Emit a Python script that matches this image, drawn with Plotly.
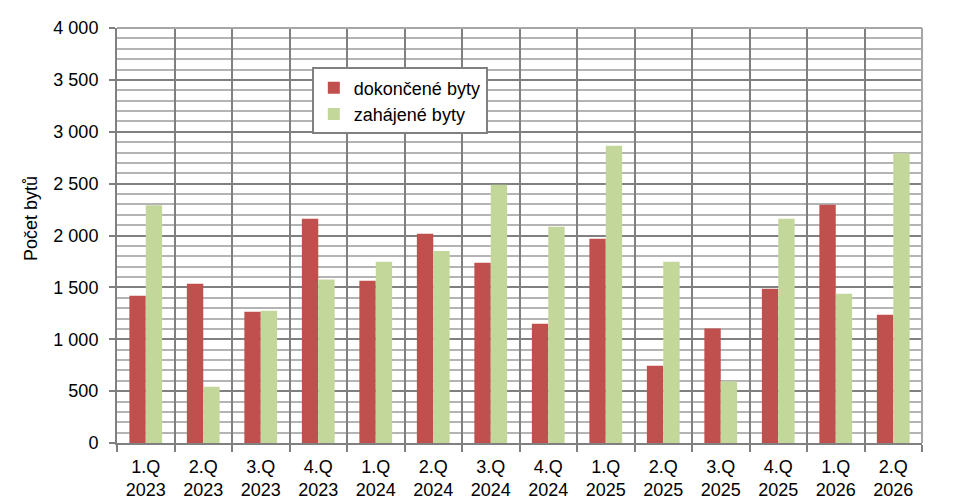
import plotly.graph_objects as go

# quarters on the x axis (two-line labels)
quarters = ["1.Q<br>2023", "2.Q<br>2023", "3.Q<br>2023", "4.Q<br>2023",
            "1.Q<br>2024", "2.Q<br>2024", "3.Q<br>2024", "4.Q<br>2024",
            "1.Q<br>2025", "2.Q<br>2025", "3.Q<br>2025", "4.Q<br>2025",
            "1.Q<br>2026", "2.Q<br>2026"]

dokoncene = [1420, 1535, 1265, 2162, 1563, 2018, 1738, 1150,
             1969, 745, 1103, 1487, 2297, 1237]
zahajene = [2292, 543, 1275, 1575, 1747, 1851, 2490, 2085,
            2866, 1747, 594, 2162, 1439, 2792]

y_tick_vals = [0, 500, 1000, 1500, 2000, 2500, 3000, 3500, 4000]
y_tick_text = ["0", "500", "1 000", "1 500", "2 000", "2 500", "3 000", "3 500", "4 000"]

RED = "#C0504D"
GREEN = "#C4D79B"
MAJOR = "#808080"
MINOR = "#B4B4B4"
FONT = "Liberation Sans, Arial, sans-serif"
FS = 18

fig = go.Figure()
fig.add_trace(go.Bar(x=quarters, y=dokoncene, name="dokončené byty",
                     marker=dict(color=RED, line=dict(width=0)), legendgroup="a"))
fig.add_trace(go.Bar(x=quarters, y=zahajene, name="zahájené byty",
                     marker=dict(color=GREEN, line=dict(width=0)), legendgroup="b"))

# page body has an 8px margin, so the figure is a bit smaller than the window
fig.update_layout(
    width=953, height=494,
    margin=dict(l=109, r=39, t=20, b=59),
    paper_bgcolor="white", plot_bgcolor="white",
    font=dict(family=FONT, size=FS, color="black"),
    barmode="group", bargap=0.43, bargroupgap=0,
    showlegend=True,
    legend=dict(x=0.242, y=0.905, xanchor="left", yanchor="top",
                bgcolor="white", bordercolor=MAJOR, borderwidth=2,
                font=dict(family=FONT, size=FS, color="black"),
                tracegroupgap=6, traceorder="normal"),
)

fig.update_xaxes(
    type="category", tickson="boundaries", automargin=False,
    showgrid=True, gridcolor=MAJOR, gridwidth=2,
    showline=True, linecolor=MAJOR, linewidth=2,
    ticks="outside", ticklen=7, tickcolor=MAJOR, tickwidth=2,
    ticklabelstandoff=6,
    tickfont=dict(family=FONT, size=FS, color="black"),
)

fig.update_yaxes(
    range=[0, 4000], tickvals=y_tick_vals, ticktext=y_tick_text,
    automargin=False,
    showgrid=True, gridcolor=MAJOR, gridwidth=2,
    showline=True, linecolor=MAJOR, linewidth=2,
    ticks="outside", ticklen=6, tickcolor=MAJOR, tickwidth=2,
    ticklabelstandoff=7,
    zeroline=False,
    tickfont=dict(family=FONT, size=FS, color="black"),
    minor=dict(dtick=100, showgrid=True, gridcolor=MINOR, gridwidth=1.6, ticks=""),
)

# lighter top and right border of the plot area
fig.add_shape(type="line", xref="paper", yref="paper", x0=0, x1=1, y0=1, y1=1,
              line=dict(color="#A6A6A6", width=2), layer="above")
fig.add_shape(type="line", xref="paper", yref="paper", x0=1, x1=1, y0=0, y1=1,
              line=dict(color="#A6A6A6", width=2), layer="above")

fig.add_annotation(text="Počet bytů", xref="paper", yref="paper",
                   x=-0.107, y=0.542, textangle=-90, showarrow=False,
                   xanchor="center", yanchor="middle",
                   font=dict(family=FONT, size=FS, color="black"))

fig.write_html("out.html")
